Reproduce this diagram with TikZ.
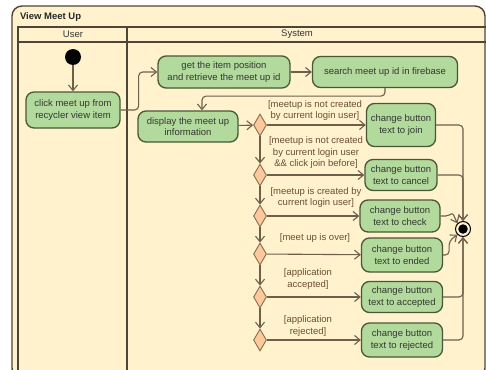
\documentclass[tikz,border=0pt]{standalone}
\usepackage{fontspec}
\setmainfont{Liberation Sans}
\usetikzlibrary{shapes.geometric,arrows.meta,calc}
\definecolor{cream}{HTML}{FFF2CC}
\definecolor{lanec}{HTML}{4D4538}
\definecolor{actfill}{HTML}{B2DA9C}
\definecolor{actline}{HTML}{4A5636}
\definecolor{decfill}{HTML}{FBC99B}
\definecolor{decline}{HTML}{8A6A50}
\definecolor{flowc}{HTML}{6E5F4B}
\definecolor{txt}{HTML}{353535}
\definecolor{guardtxt}{HTML}{6A4E36}
\begin{document}
\begin{tikzpicture}[x=1pt,y=-1pt,
  font=\fontsize{9.5}{11.5}\selectfont,
  action/.style={draw=actline, fill=actfill, rounded corners=8pt, line width=1.3pt,
    align=center, inner sep=1pt, text=txt},
  choice/.style={diamond, draw=decline, fill=decfill, line width=0.9pt,
    minimum width=13pt, minimum height=22pt, inner sep=0pt},
  guard/.style={align=center, text=guardtxt, inner sep=0pt},
  flow/.style={draw=flowc, line width=1.1pt, rounded corners=4pt,
    -{Straight Barb[length=5.5pt,width=9pt]}},
  lane/.style={draw=lanec, line width=1.4pt}]

\useasboundingbox (0,0) rectangle (486,369);
\fill[white] (0,0) rectangle (486,369);

% frame and swimlanes
\draw[lane, fill=cream, rounded corners=10pt] (12,6) rectangle (485,378);
\node[anchor=west, font=\fontsize{9.5}{11}\selectfont\bfseries, text=black!85] (title) at (16.5,17) {View Meet Up};
\draw[lane] (18,27) rectangle (495,385);
\draw[lane] (18,42) -- (495,42);
\draw[lane] (127,27) -- (127,385);
\node[text=txt] (userhdr) at (73,34.5) {User};
\node[text=txt] (syshdr) at (297,34.5) {System};

% start and end
\node[circle, fill=black, minimum size=16pt, inner sep=0pt] (start) at (73,57) {};
\node[circle, draw=black, fill=cream, line width=1pt, minimum size=15pt, inner sep=0pt] (end) at (463,229) {};
\node[circle, fill=black, minimum size=9.5pt, inner sep=0pt] (endin) at (end) {};

% actions
\node[action, minimum width=94pt, minimum height=36pt] (A) at (73,110) {click meet up from\\recycler view item};
\node[action, minimum width=132pt, minimum height=32pt] (B) at (224,72) {get the item position\\and retrieve the meet up id};
\node[action, minimum width=145pt, minimum height=31pt] (C) at (385,72) {search meet up id in firebase};
\node[action, minimum width=100pt, minimum height=31pt] (D) at (188,126.5) {display the meet up\\information};

\node[action, minimum width=69pt, minimum height=43pt] (J) at (401,125) {change button\\text to join};
\node[action, minimum width=72pt, minimum height=31pt] (K) at (401,175) {change button\\text to cancel};
\node[action, minimum width=80pt, minimum height=32pt] (L) at (400,216) {change button\\text to check};
\node[action, minimum width=81pt, minimum height=34pt] (M) at (402,255) {change button\\text to ended};
\node[action, minimum width=81pt, minimum height=31pt] (N) at (402,297) {change button\\text to accepted};
\node[action, minimum width=81pt, minimum height=34pt] (O) at (402,340) {change button\\text to rejected};

% decisions
\node[choice] (d1) at (260,125) {};
\node[choice] (d2) at (260,175) {};
\node[choice] (d3) at (260,216) {};
\node[choice] (d4) at (260,254) {};
\node[choice] (d5) at (260,297) {};
\node[choice] (d6) at (260,340) {};

% guards
\node[guard] (g1) at (315,110.5) {[meetup is not created\\by current login user]};
\node[guard] (g2) at (316,153) {[meetup is not created\\by current login user\\\&\& click join before]};
\node[guard] (g3) at (316,197.5) {[meetup is created by\\current login user]};
\node[guard] (g4) at (315,238.5) {[meet up is over]};
\node[guard] (g5) at (308,279) {[application\\accepted]};
\node[guard] (g6) at (308,326) {[application\\rejected]};

% flows
\draw[flow] (start) -- (A);
\draw[flow] (A.east) -- ++(18,0) |- (B.west);
\draw[flow] (B) -- (C);
\draw[flow] (C.south) -- ++(0,8) -| ([xshift=14pt]D.north);
\draw[flow] (D) -- (d1);

\draw[flow] (d1) -- (J);
\draw[flow] (d2) -- (K);
\draw[flow] (d3) -- (L);
\draw[flow] (d4) -- (M);
\draw[flow] (d5) -- (N);
\draw[flow] (d6) -- (O);

\draw[flow] (d1) -- (d2);
\draw[flow] (d2) -- (d3);
\draw[flow] (d3) -- (d4);
\draw[flow] (d4) -- (d5);
\draw[flow] (d5) -- (d6);

\draw[flow] (J.east) -| (end.north);
\draw[flow] (K.east) -| (end.north);
\draw[flow, rounded corners=2pt] (L.east) -- ++(7,0) -- ++(5,-3) -- (end.north west);
\draw[flow] (M.east) -- ++(6,0) -- ++(0,-14) -- (end.south west);
\draw[flow] (N.east) -| (end.south);
\draw[flow] (O.east) -| (end.south);
\end{tikzpicture}
\end{document}
